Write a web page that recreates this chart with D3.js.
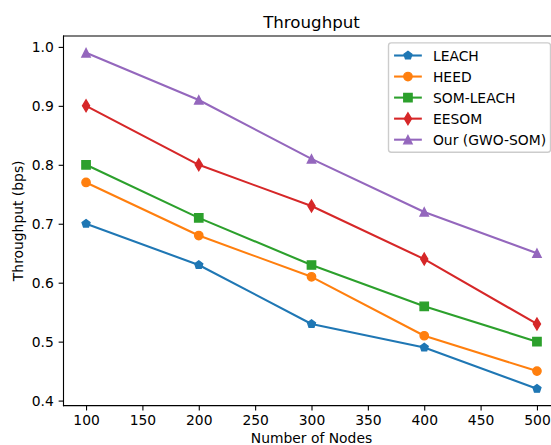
<!DOCTYPE html>
<html>
<head>
<meta charset="utf-8">
<script src="https://cdn.jsdelivr.net/npm/d3@7"></script>
<style>
  html, body { margin: 0; padding: 0; background: #ffffff; }
  svg { display: block; font-family: "DejaVu Sans", sans-serif; }
</style>
</head>
<body>
<svg id="chart" width="551" height="445"></svg>
<script>
// Network sizes on the x axis
const nodes = [100, 200, 300, 400, 500];

// Throughput (bps) per protocol
const leach    = [0.70, 0.63, 0.53, 0.49, 0.42];
const heed     = [0.77, 0.68, 0.61, 0.51, 0.45];
const somLeach = [0.80, 0.71, 0.63, 0.56, 0.50];
const eesom    = [0.90, 0.80, 0.73, 0.64, 0.53];
const gwoSom   = [0.99, 0.91, 0.81, 0.72, 0.65];

const seriesNames = ["LEACH", "HEED", "SOM-LEACH", "EESOM", "Our (GWO-SOM)"];

// Tick labels
const xTicks = [100, 150, 200, 250, 300, 350, 400, 450, 500];
const yTicks = [0.4, 0.5, 0.6, 0.7, 0.8, 0.9, 1.0];

const titleText = "Throughput";
const xLabel = "Number of Nodes";
const yLabel = "Throughput (bps)";

// ---- styling ----
const colors = ["#1f77b4", "#ff7f0e", "#2ca02c", "#d62728", "#9467bd"];
const markers = ["pentagon", "circle", "square", "thinDiamond", "triangleUp"];
const FONT = 13.89;        // 10pt at 100 dpi
const PT = 100 / 72;       // px per point
const MS = 6 * PT;         // marker size

const seriesValues = [leach, heed, somLeach, eesom, gwoSom];
const series = seriesNames.map((name, i) => ({
  name,
  color: colors[i],
  marker: markers[i],
  points: nodes.map((n, j) => ({ x: n, y: seriesValues[i][j] }))
}));

const svg = d3.select("#chart");

// Plot area (right spine falls just past the canvas edge)
const plot = { left: 63.5, right: 559.5, top: 36, bottom: 405.6 };

const x = d3.scaleLinear().domain([80, 520]).range([plot.left, plot.right]);
const y = d3.scaleLinear().domain([0.3915, 1.0185]).range([plot.bottom, plot.top]);

// Marker outline paths, centred on (0,0)
function markerPath(type) {
  const h = MS / 2;
  if (type === "circle") {
    return d3.symbol(d3.symbolCircle, Math.PI * h * h)();
  }
  if (type === "square") {
    return `M${-h},${-h}L${h},${-h}L${h},${h}L${-h},${h}Z`;
  }
  if (type === "pentagon") {
    const pts = d3.range(5).map(k => {
      const a = -Math.PI / 2 + k * 2 * Math.PI / 5;
      return [h * Math.cos(a), h * Math.sin(a)];
    });
    return "M" + pts.map(p => p.join(",")).join("L") + "Z";
  }
  if (type === "thinDiamond") {
    const dy = MS * Math.SQRT1_2, dx = 0.6 * MS * Math.SQRT1_2;
    return `M0,${-dy}L${dx},0L0,${dy}L${-dx},0Z`;
  }
  // triangle pointing up
  return `M0,${-h}L${h},${h}L${-h},${h}Z`;
}

// ---- axes ----
const xAxis = d3.axisBottom(x)
  .tickValues(xTicks)
  .tickFormat(d3.format("d"))
  .tickSizeInner(3.5 * PT)
  .tickSizeOuter(0)
  .tickPadding(3.5 * PT);

const yAxis = d3.axisLeft(y)
  .tickValues(yTicks)
  .tickFormat(d3.format(".1f"))
  .tickSizeInner(3.5 * PT)
  .tickSizeOuter(0)
  .tickPadding(3.5 * PT);

const gx = svg.append("g")
  .attr("transform", `translate(0,${plot.bottom})`)
  .call(xAxis);
const gy = svg.append("g")
  .attr("transform", `translate(${plot.left},0)`)
  .call(yAxis);

[gx, gy].forEach(g => {
  g.select(".domain").remove();
  g.selectAll(".tick line").attr("stroke", "#000").attr("stroke-width", 0.8 * PT);
  g.selectAll(".tick text")
    .attr("fill", "#000")
    .style("font-family", "'DejaVu Sans', sans-serif")
    .style("font-size", FONT + "px");
});

// ---- series ----
const line = d3.line().x(d => x(d.x)).y(d => y(d.y));

const seriesG = svg.append("g").selectAll("g")
  .data(series)
  .join("g");

seriesG.append("path")
  .attr("d", d => line(d.points))
  .attr("fill", "none")
  .attr("stroke", d => d.color)
  .attr("stroke-width", 1.5 * PT)
  .attr("stroke-linejoin", "round");

seriesG.each(function (s) {
  d3.select(this).selectAll("path.marker")
    .data(s.points)
    .join("path")
    .attr("class", "marker")
    .attr("d", markerPath(s.marker))
    .attr("transform", d => `translate(${x(d.x)},${y(d.y)})`)
    .attr("fill", s.color)
    .attr("stroke", s.color)
    .attr("stroke-width", 1 * PT);
});

// ---- spines ----
const spines = svg.append("g")
  .attr("fill", "none")
  .attr("stroke", "#000")
  .attr("stroke-width", 0.8 * PT)
  .attr("stroke-linecap", "square");
spines.append("line").attr("x1", plot.left).attr("x2", plot.left).attr("y1", plot.top).attr("y2", plot.bottom);
spines.append("line").attr("x1", plot.left).attr("x2", plot.right).attr("y1", plot.bottom).attr("y2", plot.bottom);
spines.append("line").attr("x1", plot.left).attr("x2", plot.right).attr("y1", plot.top).attr("y2", plot.top);
spines.append("line").attr("x1", plot.right).attr("x2", plot.right).attr("y1", plot.top).attr("y2", plot.bottom);

// ---- titles ----
const cx = (plot.left + plot.right) / 2;
svg.append("text")
  .attr("x", cx).attr("y", 27.7)
  .attr("text-anchor", "middle")
  .style("font-size", (12 * PT) + "px")
  .text(titleText);

svg.append("text")
  .attr("x", cx).attr("y", 443)
  .attr("text-anchor", "middle")
  .style("font-size", FONT + "px")
  .text(xLabel);

svg.append("text")
  .attr("transform", `translate(22.8,${(plot.top + plot.bottom) / 2}) rotate(-90)`)
  .attr("text-anchor", "middle")
  .style("font-size", FONT + "px")
  .text(yLabel);

// ---- legend ----
const lg = { x: 388.5, y: 42.9, w: 162, pad: 0.4 * FONT, row: 14.1, gap: 0.5 * FONT };
lg.h = 2 * lg.pad + series.length * lg.row + (series.length - 1) * lg.gap;

const legend = svg.append("g");
legend.append("rect")
  .attr("x", lg.x).attr("y", lg.y)
  .attr("width", lg.w).attr("height", lg.h)
  .attr("rx", 0.2 * FONT).attr("ry", 0.2 * FONT)
  .attr("fill", "#ffffff").attr("fill-opacity", 0.8)
  .attr("stroke", "#cccccc").attr("stroke-width", 1 * PT);

const handleX0 = lg.x + lg.pad;
const handleX1 = handleX0 + 2 * FONT;

const items = legend.selectAll("g.item")
  .data(series)
  .join("g")
  .attr("class", "item")
  .attr("transform", (d, i) =>
    `translate(0,${lg.y + lg.pad + lg.row / 2 + i * (lg.row + lg.gap)})`);

items.append("line")
  .attr("x1", handleX0).attr("x2", handleX1)
  .attr("y1", 0).attr("y2", 0)
  .attr("stroke", d => d.color)
  .attr("stroke-width", 1.5 * PT);

items.append("path")
  .attr("d", d => markerPath(d.marker))
  .attr("transform", `translate(${(handleX0 + handleX1) / 2},0)`)
  .attr("fill", d => d.color)
  .attr("stroke", d => d.color)
  .attr("stroke-width", 1 * PT);

items.append("text")
  .attr("x", handleX1 + 0.8 * FONT)
  .attr("y", 5)
  .style("font-size", FONT + "px")
  .text(d => d.name);
</script>
</body>
</html>
